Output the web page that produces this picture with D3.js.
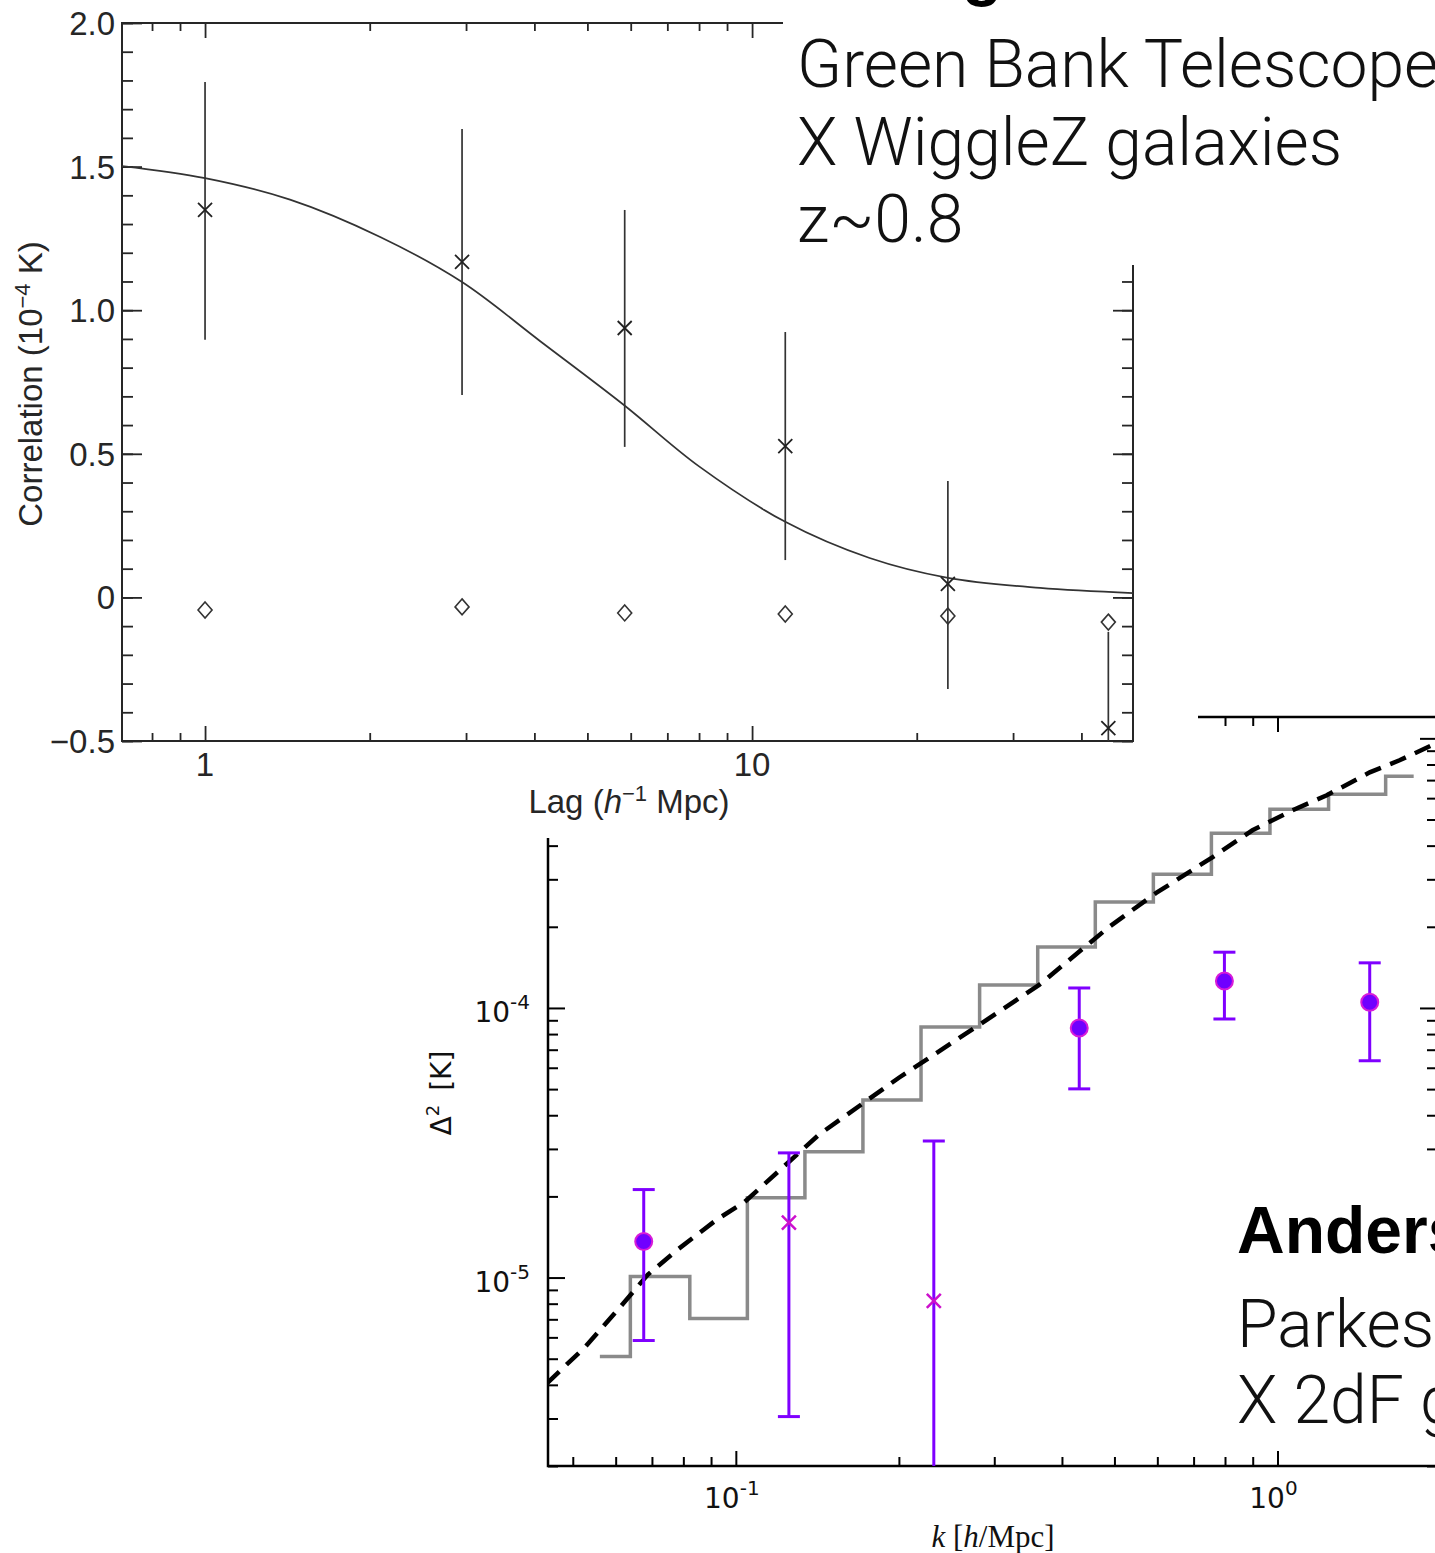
<!DOCTYPE html>
<html lang="en">
<head>
<meta charset="UTF-8">
<title>21 cm intensity mapping cross-correlations</title>
<script src="https://d3js.org/d3.v7.min.js"></script>
<style>
  body { margin: 0; background: #fff; }
  svg { display: block; }
  .light { font-family: Roboto, "Open Sans", Lato, sans-serif; font-weight: 300; }
  .bold { font-family: "Liberation Sans", Arial, sans-serif; font-weight: 700; }
</style>
</head>
<body>
<div id="chart"></div>
<script>
// --- top panel: GBT x WiggleZ, correlation vs lag ---
const lags = [1, 2.95, 5.85, 11.5, 22.8, 44.8];
const corr = [1.349, 1.168, 0.938, 0.527, 0.047, -0.455];
const corrHi = [1.795, 1.631, 1.349, 0.924, 0.405, -0.120];
const corrLo = [0.897, 0.705, 0.524, 0.130, -0.319, -0.6];
const nullCorr = [-0.044, -0.033, -0.054, -0.058, -0.065, -0.086];
const modelLag = [0.705, 1, 1.43, 2.09, 2.95, 4.1, 5.83, 8.0, 11.5, 16.4, 22.8, 33.6, 49.7];
const modelCorr = [1.502, 1.46, 1.385, 1.255, 1.098, 0.892, 0.670, 0.456, 0.263, 0.137, 0.068, 0.033, 0.015];

// --- bottom panel: Parkes x 2dF, power spectrum ---
const kBins = [0.0561, 0.0727, 0.0930, 0.1186, 0.1517, 0.1942, 0.2486, 0.3196, 0.4074, 0.5215, 0.6674, 0.8542, 1.098, 1.406, 1.784];
const simD2 = [5.10e-6, 1.008e-5, 7.05e-6, 1.978e-5, 2.93e-5, 4.56e-5, 8.50e-5, 1.217e-4, 1.682e-4, 2.47e-4, 3.13e-4, 4.45e-4, 5.46e-4, 6.20e-4, 7.23e-4];
const kTheory = [0.0448, 0.0528, 0.0624, 0.0688, 0.0781, 0.0922, 0.1039, 0.1424, 0.2000, 0.2812, 0.363, 0.489, 0.597, 0.758, 0.899, 1.066, 1.233, 1.48, 1.68, 1.96];
const theoryD2 = [4.05e-6, 5.55e-6, 8.15e-6, 1.026e-5, 1.27e-5, 1.64e-5, 1.91e-5, 3.39e-5, 5.51e-5, 8.65e-5, 1.217e-4, 2.0e-4, 2.67e-4, 3.62e-4, 4.56e-4, 5.41e-4, 6.15e-4, 7.48e-4, 8.29e-4, 9.58e-4];
const kData = [0.0676, 0.1253, 0.232, 0.4305, 0.798, 1.48];
const d2Data = [1.36e-5, 1.6e-5, 8.2e-6, 8.43e-5, 1.259e-4, 1.05e-4];
const d2Hi = [2.12e-5, 2.9e-5, 3.21e-5, 1.186e-4, 1.61e-4, 1.47e-4];
const d2Lo = [5.84e-6, 3.05e-6, 1e-7, 5.01e-5, 9.1e-5, 6.37e-5];
const d2Kind = ["dot", "cross", "cross", "dot", "dot", "dot"];

const W = 1435, H = 1553;
const svg = d3.select("#chart").append("svg")
  .attr("width", W).attr("height", H);
svg.append("rect").attr("width", W).attr("height", H).attr("fill", "#fff");

const defs = svg.append("defs");
defs.append("clipPath").attr("id", "clipBot")
  .append("rect").attr("x", 548).attr("y", 717).attr("width", 889).attr("height", 749);
defs.append("clipPath").attr("id", "clipTop")
  .append("rect").attr("x", 122).attr("y", 23).attr("width", 1011).attr("height", 718);

// inward ticks drawn with d3 axes, domain line removed
function tickRow(g, axis, values, size) {
  g.call(axis.tickValues(values).tickSize(size).tickFormat(""))
    .call(s => s.select(".domain").remove());
  return g;
}
const isDecade = v => Math.abs(Math.log10(v) - Math.round(Math.log10(v))) < 1e-6;

// ================= bottom panel =================
const bx = d3.scaleLog().domain([0.045, 1.97]).range([548, 1437]);
const by = d3.scaleLog().domain([2e-6, 1.2e-3]).range([1466, 717]);
const botG = svg.append("g").attr("stroke-linecap", "butt");

const bxTicks = bx.ticks(), byTicks = by.ticks();
const bxMinor = bxTicks.filter(v => !isDecade(v)), bxMajor = bxTicks.filter(isDecade);
const byMinor = byTicks.filter(v => !isDecade(v)), byMajor = byTicks.filter(isDecade);

[["bottom", 1466], ["top", 717]].forEach(([side, y]) => {
  const mk = side === "bottom" ? d3.axisBottom : d3.axisTop;
  tickRow(botG.append("g").attr("transform", `translate(0,${y})`), mk(bx), bxMinor, -9);
  tickRow(botG.append("g").attr("transform", `translate(0,${y})`), mk(bx), bxMajor, -15);
});
[["left", 548], ["right", 1437]].forEach(([side, x]) => {
  const mk = side === "left" ? d3.axisLeft : d3.axisRight;
  tickRow(botG.append("g").attr("transform", `translate(${x},0)`), mk(by), byMinor, -10);
  tickRow(botG.append("g").attr("transform", `translate(${x},0)`), mk(by), byMajor, -17);
});
botG.selectAll(".tick line").attr("stroke", "#000").attr("stroke-width", 2);

botG.append("rect").attr("x", 548).attr("y", 717).attr("width", 889).attr("height", 749)
  .attr("fill", "none").attr("stroke", "#000").attr("stroke-width", 2.5);

// decade labels
const supLabel = (g, x, y, exp, anchor) => {
  const t = g.append("text").attr("x", x).attr("y", y).attr("text-anchor", anchor)
    .attr("font-family", "DejaVu Sans, sans-serif").attr("font-size", 28).attr("fill", "#111");
  t.append("tspan").text("10");
  t.append("tspan").attr("dy", -13).attr("font-size", 20).text(exp);
};
bxMajor.forEach(v => supLabel(botG, bx(v) - 4, 1508, Math.round(Math.log10(v)) === 0 ? "0" : "-1", "middle"));
byMajor.filter(v => by(v) > 840).forEach(v => supLabel(botG, 530, by(v) + 14, String(Math.round(Math.log10(v))), "end"));

const ylab = botG.append("text").attr("transform", "translate(451,1093) rotate(-90)")
  .attr("text-anchor", "middle").attr("font-family", "DejaVu Sans, sans-serif")
  .attr("font-size", 28).attr("fill", "#111");
ylab.append("tspan").text("Δ");
ylab.append("tspan").attr("dy", -12).attr("font-size", 18).text("2");
ylab.append("tspan").attr("dy", 12).attr("dx", 14).text("[K]");

const xlab = botG.append("text").attr("x", 993).attr("y", 1547).attr("text-anchor", "middle")
  .attr("font-family", "Liberation Serif, serif").attr("font-size", 31).attr("fill", "#111");
xlab.append("tspan").attr("font-style", "italic").text("k");
xlab.append("tspan").text(" [");
xlab.append("tspan").attr("font-style", "italic").text("h");
xlab.append("tspan").text("/Mpc]");

const plotB = botG.append("g").attr("clip-path", "url(#clipBot)");
plotB.append("path")
  .datum(kBins.map((k, i) => [k, simD2[i]]))
  .attr("fill", "none").attr("stroke", "#8a8a8a").attr("stroke-width", 3.5)
  .attr("d", d3.line().x(d => bx(d[0])).y(d => by(d[1])).curve(d3.curveStep));
plotB.append("path")
  .datum(kTheory.map((k, i) => [k, theoryD2[i]]))
  .attr("fill", "none").attr("stroke", "#000").attr("stroke-width", 4.5)
  .attr("stroke-dasharray", "17,10")
  .attr("d", d3.line().x(d => bx(d[0])).y(d => by(d[1])));

const pts = kData.map((k, i) => ({ k, v: d2Data[i], lo: d2Lo[i], hi: d2Hi[i], kind: d2Kind[i] }));
const violet = "#7f00ff";
pts.forEach(p => {
  const x = bx(p.k);
  plotB.append("line").attr("x1", x).attr("x2", x).attr("y1", by(p.hi)).attr("y2", by(p.lo))
    .attr("stroke", violet).attr("stroke-width", 3);
  [p.hi, p.lo].forEach(v => plotB.append("line")
    .attr("x1", x - 11).attr("x2", x + 11).attr("y1", by(v)).attr("y2", by(v))
    .attr("stroke", violet).attr("stroke-width", 3));
  const y = by(p.v);
  if (p.kind === "dot") {
    plotB.append("circle").attr("cx", x).attr("cy", y).attr("r", 8.5)
      .attr("fill", "#7000ff").attr("stroke", "#d81cd8").attr("stroke-width", 2);
  } else {
    plotB.append("path").attr("d", `M${x - 7},${y - 7}L${x + 7},${y + 7}M${x - 7},${y + 7}L${x + 7},${y - 7}`)
      .attr("stroke", "#cc10cc").attr("stroke-width", 2.5);
  }
});

// top figure sits on top of the bottom one
svg.append("rect").attr("x", 0).attr("y", 0).attr("width", 1198).attr("height", 838).attr("fill", "#fff");

// ================= top panel =================
const tx = d3.scaleLog().domain([0.705, 49.7]).range([122, 1133]);
const ty = d3.scaleLinear().domain([-0.5, 2.0]).range([741, 23]);
const topG = svg.append("g");
const ink = "#262626";

const txTicks = tx.ticks();
const txMinor = txTicks.filter(v => !isDecade(v)), txMajor = txTicks.filter(isDecade);
const tyMinor = ty.ticks(25), tyMajor = ty.ticks(5);

[["bottom", 741], ["top", 23]].forEach(([side, y]) => {
  const mk = side === "bottom" ? d3.axisBottom : d3.axisTop;
  tickRow(topG.append("g").attr("transform", `translate(0,${y})`), mk(tx), txMinor, -8);
  tickRow(topG.append("g").attr("transform", `translate(0,${y})`), mk(tx), txMajor, -15);
});
[["left", 122], ["right", 1133]].forEach(([side, x]) => {
  const mk = side === "left" ? d3.axisLeft : d3.axisRight;
  tickRow(topG.append("g").attr("transform", `translate(${x},0)`), mk(ty), tyMinor, -11);
  tickRow(topG.append("g").attr("transform", `translate(${x},0)`), mk(ty), tyMajor, -20);
});
topG.selectAll(".tick line").attr("stroke", ink).attr("stroke-width", 1.8);
topG.append("rect").attr("x", 122).attr("y", 23).attr("width", 1011).attr("height", 718)
  .attr("fill", "none").attr("stroke", ink).attr("stroke-width", 2);

const helv = "Liberation Sans, Arial, sans-serif";
const fmtY = v => v === 0 ? "0" : d3.format(".1f")(v);
tyMajor.forEach(v => topG.append("text").attr("x", 115).attr("y", ty(v) + 12)
  .attr("text-anchor", "end").attr("font-family", helv).attr("font-size", 33)
  .attr("fill", ink).text(fmtY(v)));
txMajor.forEach(v => topG.append("text").attr("x", tx(v)).attr("y", 776)
  .attr("text-anchor", "middle").attr("font-family", helv).attr("font-size", 33)
  .attr("fill", ink).text(d3.format("d")(v)));

const cl = topG.append("text").attr("transform", "translate(42,384) rotate(-90)")
  .attr("text-anchor", "middle").attr("font-family", helv).attr("font-size", 33).attr("fill", ink);
cl.append("tspan").text("Correlation (10");
cl.append("tspan").attr("dy", -12).attr("font-size", 22).text("−4");
cl.append("tspan").attr("dy", 12).text(" K)");

const lg = topG.append("text").attr("x", 629).attr("y", 813)
  .attr("text-anchor", "middle").attr("font-family", helv).attr("font-size", 33).attr("fill", ink);
lg.append("tspan").text("Lag (");
lg.append("tspan").attr("font-style", "italic").text("h");
lg.append("tspan").attr("dy", -12).attr("font-size", 22).text("−1");
lg.append("tspan").attr("dy", 12).text(" Mpc)");

const plotT = topG.append("g").attr("clip-path", "url(#clipTop)");
plotT.append("path")
  .datum(modelLag.map((l, i) => [l, modelCorr[i]]))
  .attr("fill", "none").attr("stroke", "#333").attr("stroke-width", 1.7)
  .attr("d", d3.line().x(d => tx(d[0])).y(d => ty(d[1])).curve(d3.curveCatmullRom.alpha(0.5)));

lags.forEach((l, i) => {
  const x = tx(l);
  plotT.append("line").attr("x1", x).attr("x2", x).attr("y1", ty(corrHi[i])).attr("y2", ty(corrLo[i]))
    .attr("stroke", "#333").attr("stroke-width", 1.7);
  const y = ty(corr[i]);
  plotT.append("path").attr("d", `M${x - 7},${y - 7}L${x + 7},${y + 7}M${x - 7},${y + 7}L${x + 7},${y - 7}`)
    .attr("stroke", "#222").attr("stroke-width", 1.8);
  const yd = ty(nullCorr[i]);
  plotT.append("path").attr("d", `M${x},${yd - 8}L${x + 7},${yd}L${x},${yd + 8}L${x - 7},${yd}Z`)
    .attr("fill", "none").attr("stroke", "#333").attr("stroke-width", 1.6);
});

// ================= slide annotations =================
svg.append("rect").attr("x", 783).attr("y", 0).attr("width", W - 783).attr("height", 265).attr("fill", "#fff");
svg.append("text").attr("class", "bold").attr("x", 797).attr("y", -7).attr("font-size", 66).text("Chang et al. 2010");
["Green Bank Telescope", "X WiggleZ galaxies", "z~0.8"].forEach((s, i) =>
  svg.append("text").attr("class", "light").attr("x", 797).attr("y", 87 + i * 77.5)
    .attr("font-size", 66).attr("fill", "#111").text(s));

svg.append("rect").attr("x", 1228).attr("y", 1186).attr("width", W - 1228).attr("height", 262).attr("fill", "#fff");
svg.append("text").attr("class", "bold").attr("x", 1237).attr("y", 1253).attr("font-size", 66).text("Anderson et al. 2018");
["Parkes Telescope", "X 2dF galaxies"].forEach((s, i) =>
  svg.append("text").attr("class", "light").attr("x", 1237).attr("y", 1347 + i * 76)
    .attr("font-size", 66).attr("fill", "#111").text(s));
</script>
</body>
</html>
